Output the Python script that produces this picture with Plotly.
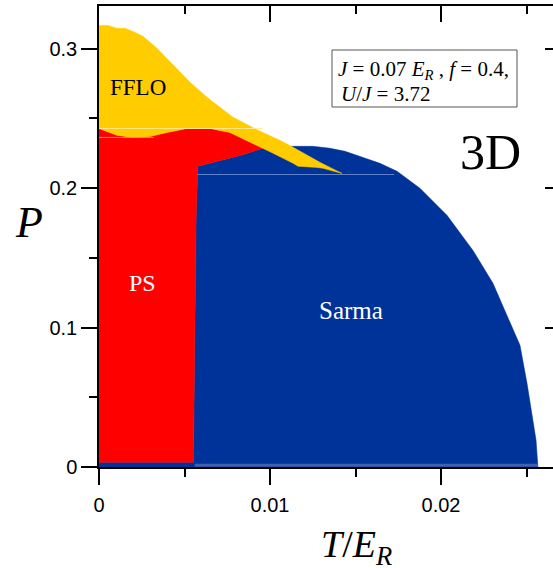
import plotly.graph_objects as go

# ---------------- data ----------------
# FFLO region: upper boundary (left -> right, ending at the tongue tip)
fflo_top_T = [0.0, 0.00053, 0.00105, 0.00152, 0.00199, 0.00257, 0.00339, 0.00433,
              0.00532, 0.00632, 0.00784, 0.00942, 0.01058, 0.01135, 0.01216,
              0.01292, 0.01351, 0.01421]
fflo_top_P = [0.3166, 0.3166, 0.3145, 0.3145, 0.3123, 0.3088, 0.3002, 0.2880,
              0.2758, 0.2650, 0.2507, 0.2407, 0.2342, 0.2292, 0.2235,
              0.2184, 0.2148, 0.2105]
# FFLO lower edge of the tongue (right -> left)
fflo_low_T = [0.01310, 0.01275, 0.01164, 0.01135, 0.01018, 0.00959]
fflo_low_P = [0.2141, 0.2148, 0.2156, 0.2177, 0.2249, 0.2285]
# FFLO / PS boundary (right -> left)
ps_top_T = [0.00825, 0.00766, 0.00649, 0.00515, 0.00398, 0.00298, 0.00199, 0.00105, 0.0]
ps_top_P = [0.2363, 0.2398, 0.2427, 0.2427, 0.2398, 0.2370, 0.2363, 0.2378, 0.2427]

# Sarma region outline (bottom right -> over the dome -> down the left side)
sarma_T = [0.0, 0.02567, 0.02556, 0.02538, 0.02503, 0.02462, 0.02404, 0.02304,
           0.02187, 0.02035, 0.01877, 0.01743, 0.01643, 0.01526, 0.01439,
           0.01351, 0.01251, 0.01135, 0.00959, 0.00825, 0.00578, 0.00568,
           0.00552, 0.0]
sarma_P = [0.0, 0.0, 0.0191, 0.0335, 0.0600, 0.0872, 0.1037, 0.1317,
           0.1553, 0.1804, 0.1998, 0.2120, 0.2177, 0.2227, 0.2263,
           0.2285, 0.2299, 0.2299, 0.2285, 0.2234, 0.2156, 0.1790,
           0.0034, 0.0034]

# PS region outline
ps_T = [0.0, 0.00552, 0.00568, 0.00578, 0.00825, 0.00959] + ps_top_T
ps_P = [0.0034, 0.0034, 0.1790, 0.2156, 0.2234, 0.2285] + ps_top_P

fflo_T = fflo_top_T + fflo_low_T + ps_top_T
fflo_P = fflo_top_P + fflo_low_P + ps_top_P

# faint seams visible in the reference fills
seam_sarma_T = [0.00578, 0.01726]
seam_sarma_P = [0.2097, 0.2097]
seam_base_T = [0.00560, 0.02567]
seam_base_P = [0.0012, 0.0012]
seam_fflo_T = [0.0, 0.00959]
seam_fflo_P = [0.2427, 0.2427]
seam_ps_T = [0.0, 0.0032]
seam_ps_P = [0.2363, 0.2363]

x_ticks = [0, 0.01, 0.02]
x_ticklabels = ["0", "0.01", "0.02"]
y_ticks = [0, 0.1, 0.2, 0.3]
y_ticklabels = ["0", "0.1", "0.2", "0.3"]

YELLOW = "#FFCC00"
RED = "#FF0000"
BLUE = "#003399"

fig = go.Figure()
fig.add_trace(go.Scatter(x=sarma_T, y=sarma_P, fill="toself", fillcolor=BLUE,
                         mode="lines", line=dict(width=0.5, color=BLUE),
                         hoverinfo="skip", showlegend=False))
fig.add_trace(go.Scatter(x=ps_T, y=ps_P, fill="toself", fillcolor=RED,
                         mode="lines", line=dict(width=0.5, color=RED),
                         hoverinfo="skip", showlegend=False))
fig.add_trace(go.Scatter(x=fflo_T, y=fflo_P, fill="toself", fillcolor=YELLOW,
                         mode="lines", line=dict(width=0.5, color=YELLOW),
                         hoverinfo="skip", showlegend=False))
# seams
fig.add_trace(go.Scatter(x=seam_sarma_T, y=seam_sarma_P, mode="lines",
                         line=dict(width=1, color="rgba(120,150,210,0.8)"),
                         hoverinfo="skip", showlegend=False))
fig.add_trace(go.Scatter(x=seam_base_T, y=seam_base_P, mode="lines",
                         line=dict(width=3, color="#3d62ad"),
                         hoverinfo="skip", showlegend=False))
fig.add_trace(go.Scatter(x=seam_fflo_T, y=seam_fflo_P, mode="lines",
                         line=dict(width=1, color="rgba(255,235,150,0.9)"),
                         hoverinfo="skip", showlegend=False))
fig.add_trace(go.Scatter(x=seam_ps_T, y=seam_ps_P, mode="lines",
                         line=dict(width=1, color="rgba(255,140,140,0.9)"),
                         hoverinfo="skip", showlegend=False))
# dummy trace for mirrored axes
fig.add_trace(go.Scatter(x=[None], y=[None], xaxis="x2", yaxis="y2",
                         hoverinfo="skip", showlegend=False))

XR = [0, 0.02655]
YR = [0, 0.3305]
tickfont = dict(family="Arial, Liberation Sans, sans-serif", size=20, color="black")
serif = "Liberation Serif, Times New Roman, serif"

fig.update_layout(
    width=553, height=568,
    margin=dict(l=99, r=0, t=6, b=101),
    paper_bgcolor="white", plot_bgcolor="white",
    xaxis=dict(range=XR, showgrid=False, zeroline=False, showline=True,
               linecolor="black", linewidth=1.5, ticks="outside", ticklen=16,
               tickwidth=1.5, tickcolor="black", tickvals=x_ticks,
               ticktext=x_ticklabels, tickfont=tickfont, ticklabelstandoff=3,
               minor=dict(ticks="outside", ticklen=8, tickwidth=1.5,
                          tickcolor="black", dtick=0.005, tick0=0, showgrid=False)),
    yaxis=dict(range=YR, showgrid=False, zeroline=False, showline=True,
               linecolor="black", linewidth=1.5, ticks="outside", ticklen=16,
               tickwidth=1.5, tickcolor="black", tickvals=y_ticks,
               ticktext=y_ticklabels, tickfont=tickfont,
               minor=dict(ticks="outside", ticklen=8, tickwidth=1.5,
                          tickcolor="black", dtick=0.05, tick0=0, showgrid=False)),
    xaxis2=dict(range=XR, overlaying="x", side="top", anchor="y",
                showgrid=False, zeroline=False, showline=True, linecolor="black",
                linewidth=1.5, ticks="inside", ticklen=16, tickwidth=1.5,
                tickcolor="black", tickvals=x_ticks, showticklabels=False,
                minor=dict(ticks="inside", ticklen=8, tickwidth=1.5,
                           tickcolor="black", dtick=0.005, tick0=0, showgrid=False)),
    yaxis2=dict(range=YR, overlaying="y", side="right", anchor="x",
                showgrid=False, zeroline=False, showline=False,
                ticks="inside", ticklen=8, tickwidth=1.5, tickcolor="black",
                tickvals=y_ticks, showticklabels=False),
)

W, H = 553, 568
L, B, T = 99, 101, 6
def px(xp):
    return (xp - L) / (W - L)
def py(yp):
    return (H - B - yp) / (H - B - T)

annos = [
    dict(text="<i>P</i>", x=29, y=223, size=44, color="black", anchor="center"),
    dict(text="<i>T</i>/<i>E</i><sub><i>R</i></sub>", x=356, y=547, size=38, color="black", anchor="center"),
    dict(text="3D", x=490, y=152, size=50, color="black", anchor="center"),
    dict(text="FFLO", x=138, y=88, size=23, color="black", anchor="center"),
    dict(text="PS", x=142, y=283, size=24, color="white", anchor="center"),
    dict(text="Sarma", x=351, y=310, size=25, color="white", anchor="center"),
    dict(text="<i>J</i> = 0.07 <i>E</i><sub><i>R</i></sub> , <i>f</i> = 0.4,", x=336, y=70, size=21, color="black", anchor="left"),
    dict(text="<i>U</i>/<i>J</i> = 3.72", x=339, y=94, size=21, color="black", anchor="left"),
]
for a in annos:
    fig.add_annotation(text=a["text"], xref="paper", yref="paper",
                       x=px(a["x"]), y=py(a["y"]),
                       xanchor=a["anchor"], yanchor="middle", showarrow=False,
                       font=dict(family=serif, size=a["size"], color=a["color"]))

# parameter box frame
fig.add_shape(type="rect", xref="paper", yref="paper",
              x0=px(332), x1=px(517), y0=py(107), y1=py(50),
              line=dict(color="#555555", width=1), fillcolor="rgba(0,0,0,0)")

fig.write_html("out.html",
               config={"displayModeBar": False},
               post_script="document.body.style.margin='0';document.body.style.overflow='hidden';")
